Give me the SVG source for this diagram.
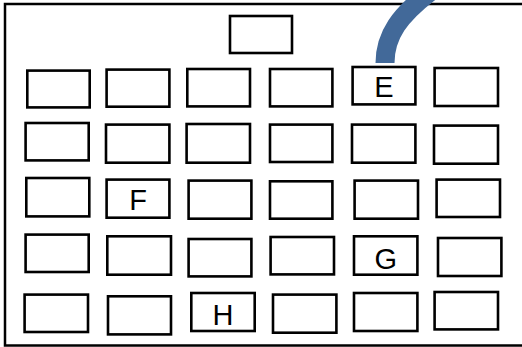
<svg xmlns="http://www.w3.org/2000/svg" width="522" height="347" viewBox="0 0 522 347">
<style>
.frame{fill:none;stroke:#000;stroke-width:2.5}
.box{fill:#fff;stroke:#000;stroke-width:2.6}
.lbl{font-family:"Liberation Sans","DejaVu Sans",sans-serif;font-size:29px;fill:#000;text-anchor:middle}
.conn{fill:none;stroke:#426999;stroke-width:19;stroke-linecap:butt}
</style>
<rect x="0" y="0" width="522" height="347" fill="#fff"/>
<rect class="frame" x="5" y="4" width="530" height="341.5"/>
<g id="top"><rect class="box" x="230" y="16" width="62" height="37"/></g>
<g id="r1c1"><rect class="box" x="27.3" y="70.6" width="62.4" height="36.8"/></g>
<g id="r1c2"><rect class="box" x="106.6" y="69.6" width="62.8" height="37.1"/></g>
<g id="r1c3"><rect class="box" x="187.3" y="69" width="62.7" height="37.4"/></g>
<g id="r1c4"><rect class="box" x="270" y="69" width="62.4" height="37.4"/></g>
<g id="E"><rect class="box" x="352.6" y="67" width="62.8" height="37.4"/><text class="lbl" x="384" y="97">E</text></g>
<g id="r1c6"><rect class="box" x="434.6" y="68" width="63.4" height="38"/></g>
<g id="r2c1"><rect class="box" x="25.6" y="123" width="63.1" height="37.4"/></g>
<g id="r2c2"><rect class="box" x="106" y="124.6" width="63.4" height="38.1"/></g>
<g id="r2c3"><rect class="box" x="186.6" y="124" width="63.4" height="38.7"/></g>
<g id="r2c4"><rect class="box" x="270" y="124.6" width="62.4" height="37.4"/></g>
<g id="r2c5"><rect class="box" x="352" y="124.6" width="63.4" height="38.1"/></g>
<g id="r2c6"><rect class="box" x="434" y="125.6" width="64" height="38.1"/></g>
<g id="r3c1"><rect class="box" x="26.3" y="178" width="63" height="38.4"/></g>
<g id="F"><rect class="box" x="106.6" y="179.6" width="62.8" height="38.1"/><text class="lbl" x="138" y="210">F</text></g>
<g id="r3c3"><rect class="box" x="188.6" y="180.6" width="62.8" height="38.1"/></g>
<g id="r3c4"><rect class="box" x="270" y="181.3" width="62.4" height="37.4"/></g>
<g id="r3c5"><rect class="box" x="354.6" y="180.6" width="63.4" height="38.1"/></g>
<g id="r3c6"><rect class="box" x="436.6" y="179.6" width="63.4" height="37.4"/></g>
<g id="r4c1"><rect class="box" x="25.6" y="234.6" width="63.1" height="37.4"/></g>
<g id="r4c2"><rect class="box" x="107.3" y="236.3" width="63.7" height="38.4"/></g>
<g id="r4c3"><rect class="box" x="188.6" y="239" width="62.8" height="37.4"/></g>
<g id="r4c4"><rect class="box" x="270.6" y="237" width="63.4" height="37.4"/></g>
<g id="G"><rect class="box" x="354" y="236.3" width="63.4" height="38.4"/><text class="lbl" x="385.7" y="268.5">G</text></g>
<g id="r4c6"><rect class="box" x="438" y="238" width="63.4" height="38"/></g>
<g id="r5c1"><rect class="box" x="24.6" y="294.6" width="63.4" height="37.4"/></g>
<g id="r5c2"><rect class="box" x="108" y="296.3" width="63" height="38.1"/></g>
<g id="H"><rect class="box" x="191.3" y="293" width="63.4" height="38"/><text class="lbl" x="223" y="325">H</text></g>
<g id="r5c4"><rect class="box" x="273" y="294.6" width="63.4" height="38.1"/></g>
<g id="r5c5"><rect class="box" x="354" y="293" width="63.4" height="38"/></g>
<g id="r5c6"><rect class="box" x="434.6" y="292" width="63.4" height="37.4"/></g>
<g id="connectors"><path class="conn" d="M385,63 C385,35 400,15 430,-8"/></g>
</svg>
